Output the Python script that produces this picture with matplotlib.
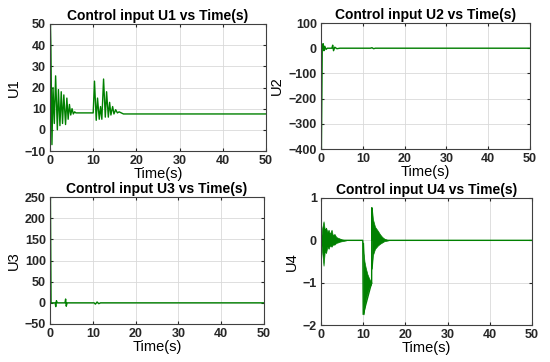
import matplotlib
matplotlib.use("Agg")
import matplotlib.pyplot as plt

plt.rcParams["font.family"] = ["Liberation Sans", "DejaVu Sans"]

# U1: turning points
t_u1 = [0.1, 0.2, 0.45, 0.7, 1.0, 1.3, 1.7, 1.95, 2.3, 2.6, 2.9, 3.2, 3.6,
        3.9, 4.2, 4.5, 4.8, 5.1, 5.4, 5.7, 6.0, 10.0, 10.3, 10.7, 11.0, 11.4,
        11.7, 12.0, 12.4, 12.8, 13.1, 13.5, 13.8, 14.1, 14.5, 14.8, 15.2, 15.6,
        16.0, 17.0, 50]
u1 = [50, 40, -7, 20, 3, 25.5, 0, 19, 2, 18, 3, 16.5, 2.5, 15, 5, 12, 7, 10,
      7.5, 8.5, 8, 8, 23, 4.5, 15, 5, 11, 5, 24, 6, 18, 6, 13, 7, 11, 7.5, 9.5,
      8, 8.5, 7.5, 7.5]

# U2
t_u2 = [0.1, 0.3, 0.5, 0.7, 0.9, 1.2, 1.5, 2.6, 2.8, 3.0, 3.3, 3.8, 4.5, 11.8,
        12.2, 12.6, 13.0, 50]
u2 = [-400, 0, 18, -10, 8, -5, 0, 0, 12, -10, 4, -2, 0, 0, 2, -2, 0, 0]

# U3
t_u3 = [0.1, 0.25, 1.2, 1.35, 1.5, 1.7, 3.5, 3.65, 3.8, 4.0, 10.3, 10.6, 11.0,
        11.4, 11.8, 50]
u3 = [245, 0, 0, -9, 5, 0, 0, 9, -8, 0, 0, -3, 2, -2, 0, 0]

# U4: base path plus chattering envelopes
t_u4 = [0, 9.9, 10.0, 12.0, 12.05, 12.1, 50]
u4 = [0, 0, -1.75, -1.0, 0.77, 0, 0]

band1_t = [0.1, 0.3, 0.6, 0.9, 1.2, 1.5, 1.8, 2.1, 2.5, 2.8, 3.2, 3.6, 4.0,
           4.5, 5.0, 5.5, 6.0]
band1_hi = [0.1, 0.3, 0.45, 0.25, 0.3, 0.2, 0.25, 0.15, 0.25, 0.12, 0.15,
            0.08, 0.06, 0.04, 0.02, 0.01, 0]
band1_lo = [-0.1, -0.3, -0.6, -0.25, -0.3, -0.15, -0.2, -0.12, -0.15, -0.1,
            -0.1, -0.06, -0.05, -0.03, -0.02, -0.01, 0]

band2_t = [10.0, 10.1, 10.3, 10.6, 11.0, 11.4, 11.8, 12.0]
band2_hi = [-0.05, -0.3, -0.5, -0.65, -0.8, -0.9, -0.97, -1.0]
band2_lo = [-1.5, -1.75, -1.6, -1.4, -1.25, -1.12, -1.05, -1.0]

band3_t = [12.05, 12.3, 12.8, 13.5, 14.0, 14.5, 15.0, 15.5, 16.0]
band3_hi = [0.77, 0.5, 0.32, 0.22, 0.14, 0.08, 0.04, 0.02, 0]
band3_lo = [-0.67, -0.35, -0.2, -0.12, -0.08, -0.05, -0.02, -0.01, 0]

green = "#008000"
W, H = 550, 362

fig = plt.figure(figsize=(5.5, 3.62), dpi=100)


def make_axes(left, top, right, bottom):
    return fig.add_axes([left / W, 1 - bottom / H, (right - left) / W,
                         (bottom - top) / H])


def style(ax, title, ylabel, ylim, yticks):
    ax.set_xlim(0, 50)
    ax.set_ylim(*ylim)
    ax.set_xticks([0, 10, 20, 30, 40, 50])
    ax.set_yticks(yticks)
    ax.set_title(title, fontsize=10, fontweight="bold", pad=3)
    ax.set_xlabel("Time(s)", fontsize=10.5, labelpad=0)
    ax.set_ylabel(ylabel, fontsize=10.5, labelpad=3)
    ax.tick_params(direction="in", length=2.5, labelsize=9, pad=3,
                   top=True, right=True, colors="#262626")
    for lab in ax.get_xticklabels() + ax.get_yticklabels():
        lab.set_fontweight("bold")
    ax.grid(True, color="#d9d9d9", linewidth=0.6)
    ax.set_axisbelow(True)
    for sp in ax.spines.values():
        sp.set_color("#404040")
        sp.set_linewidth(0.8)


ax1 = make_axes(50, 24, 266, 151)
ax1.plot(t_u1, u1, color=green, lw=1.0)
style(ax1, "Control input U1 vs Time(s)", "U1", (-10, 50),
      [-10, 0, 10, 20, 30, 40, 50])

ax2 = make_axes(321, 23, 530, 149)
ax2.plot(t_u2, u2, color=green, lw=1.0)
style(ax2, "Control input U2 vs Time(s)", "U2", (-400, 100),
      [-400, -300, -200, -100, 0, 100])

ax3 = make_axes(50, 197, 264, 324)
ax3.plot(t_u3, u3, color=green, lw=1.0)
style(ax3, "Control input U3 vs Time(s)", "U3", (-50, 250),
      [-50, 0, 50, 100, 150, 200, 250])

ax4 = make_axes(321, 198, 532, 325)
ax4.plot(t_u4, u4, color=green, lw=1.0)
ax4.fill_between(band1_t, band1_lo, band1_hi, color=green, lw=0.5)
ax4.fill_between(band2_t, band2_lo, band2_hi, color=green, lw=0.5)
ax4.fill_between(band3_t, band3_lo, band3_hi, color=green, lw=0.5)
style(ax4, "Control input U4 vs Time(s)", "U4", (-2, 1), [-2, -1, 0, 1])

fig.savefig("out.png", dpi=100)
